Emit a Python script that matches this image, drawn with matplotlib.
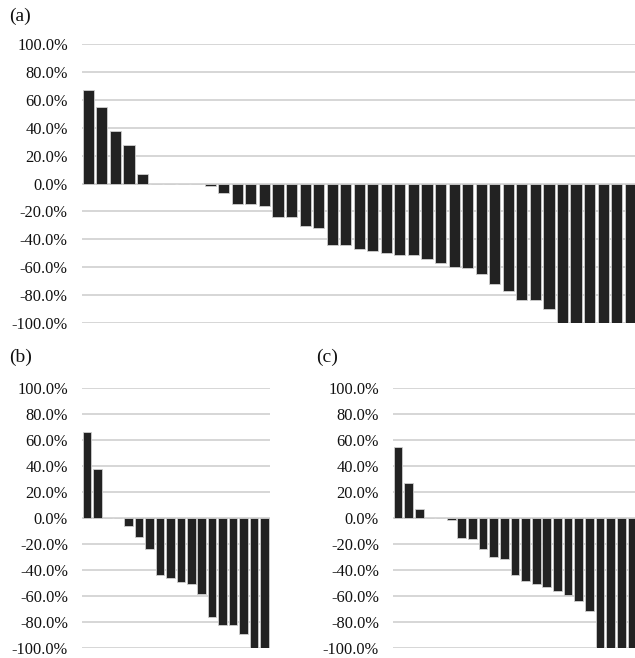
import numpy as np
import matplotlib
matplotlib.use("Agg")
import matplotlib.pyplot as plt

plt.rcParams["font.family"] = ["Liberation Serif", "DejaVu Serif"]

# percent change per patient, sorted (waterfall)
vals_a = [66.7, 54.8, 37.6, 27.4, 6.7, 0, 0, 0, 0,
          -1.7, -6.7, -14.5, -14.5, -16.0, -23.8, -24.3,
          -30.5, -32.0, -43.7, -43.9, -47.0, -48.4, -49.9, -51.0, -51.3,
          -53.7, -56.8, -59.4, -60.1, -64.7, -72.0, -76.8, -83.5, -83.5,
          -90.0, -100, -100, -100, -100, -100, -100]
vals_b = [66.6, 37.7, 0, 0, -6.6, -14.7, -23.8, -43.8, -46.1, -49.6,
          -50.9, -58.7, -76.5, -83.0, -83.0, -89.9, -100, -100]
vals_c = [55.0, 27.3, 6.8, 0, 0, -1.8, -15.2, -16.2, -24.3, -30.4, -31.6,
          -43.8, -48.4, -51.1, -53.4, -56.5, -59.7, -64.3, -71.6,
          -100, -100, -100, -100]

yticks = np.arange(-100, 101, 20)
tick_labels = [f"{v:.1f}%" for v in yticks]

W, H = 635, 658
fig = plt.figure(figsize=(W / 100, H / 100), dpi=100)


def waterfall(rect, vals, label, label_xy):
    ax = fig.add_axes(rect)
    x = np.arange(len(vals))
    ax.bar(x, vals, width=0.82, color="#222222", edgecolor="#cfcfcf",
           linewidth=0.6, zorder=3)
    ax.set_xlim(-0.5, len(vals) - 0.5)
    ax.set_ylim(-100, 100)
    ax.set_yticks(yticks)
    ax.set_yticklabels(tick_labels, fontsize=11.8, color="#111111")
    ax.set_xticks([])
    ax.tick_params(axis="y", length=0, pad=10)
    for s in ax.spines.values():
        s.set_visible(False)
    ax.grid(axis="y", color="#d0d0d0", linewidth=1.2, zorder=0)
    ax.set_axisbelow(True)
    fig.text(label_xy[0] / W, 1 - label_xy[1] / H, label, fontsize=14,
             ha="left", va="center", color="#111111")
    return ax


# rects in pixel units: left, top, right, bottom
def px(l, t, r, b):
    return [l / W, 1 - b / H, (r - l) / W, (b - t) / H]


waterfall(px(81.6, 43.7, 637.0, 323.3), vals_a, "(a)", (9, 16))
waterfall(px(81.7, 388.3, 269.5, 647.5), vals_b, "(b)", (9, 357))
waterfall(px(392.7, 388.3, 637.2, 647.5), vals_c, "(c)", (316, 357))

fig.savefig("out.png", dpi=100)
